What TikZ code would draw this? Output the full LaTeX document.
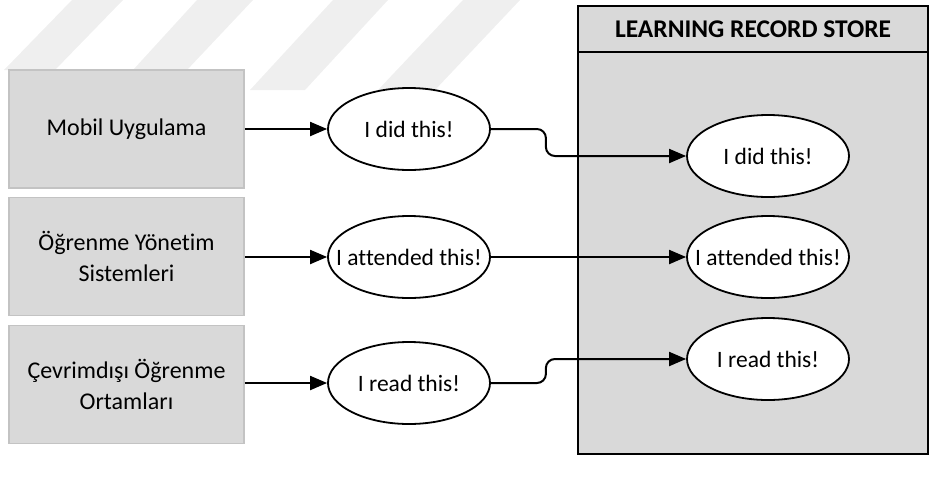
\documentclass[tikz,border=0pt]{standalone}
\usepackage{fontspec}
\setmainfont{Carlito}[Ligatures=NoCommon]
\usetikzlibrary{arrows.meta,shapes.geometric}
\definecolor{boxgray}{HTML}{D9D9D9}
\definecolor{boxedge}{HTML}{C3C3C3}
\definecolor{wmark}{HTML}{EFEFEF}
\newcommand{\fixw}[1]{\makebox[0pt][c]{#1}}
\tikzset{
  srcbox/.style={draw=boxedge, line width=1.5pt, fill=boxgray, minimum width=235pt, minimum height=118pt, inner sep=2pt, align=center, font=\fontsize{24}{31}\selectfont},
  stmt/.style={ellipse, draw=black, line width=1.8pt, fill=white, minimum width=162pt, minimum height=82pt, inner sep=0pt, font=\fontsize{23.5}{28}\selectfont},
  link/.style={line width=2pt, -{Triangle[length=17pt, width=14pt]}},
  lrsframe/.style={draw=black, line width=2.2pt, fill=boxgray, anchor=north west, inner sep=0pt},
  stripe/.style={fill=wmark, draw=none}
}
\begin{document}
\begin{tikzpicture}[x=1pt,y=-1pt]
\useasboundingbox (0,0) rectangle (937,480);
% watermark stripes
\fill[stripe] (72,0) -- (123,0) -- (55,70) -- (4,70) -- cycle;
\fill[stripe] (197,0) -- (253,0) -- (187,70) -- (133,70) -- cycle;
\fill[stripe] (333,0) -- (388,0) -- (305,90) -- (250,90) -- cycle;
\fill[stripe] (463,0) -- (520,0) -- (435,90) -- (378,90) -- cycle;
% learning record store
\node[lrsframe, minimum width=350pt, minimum height=448pt] (lrs) at (577,5) {};
\node[lrsframe, minimum width=350pt, minimum height=46pt, font=\fontsize{25.5}{30}\selectfont\bfseries] (lrshead) at (577,5) {LEARNING RECORD STORE};
% sources
\node[srcbox] (b1) at (126.5,129) {Mobil Uygulama};
\node[srcbox] (b2) at (126.5,256.5) {Öğrenme Yönetim\\Sistemleri};
\node[srcbox] (b3) at (126.5,384.5) {Çevrimdışı Öğrenme\\Ortamları};
% statements
\node[stmt] (l1) at (409,129) {\fixw{I did this!}};
\node[stmt] (l2) at (409,257) {\fixw{I attended this!}};
\node[stmt] (l3) at (409,383) {\fixw{I read this!}};
\node[stmt] (r1) at (768,156) {\fixw{I did this!}};
\node[stmt] (r2) at (768,257) {\fixw{I attended this!}};
\node[stmt] (r3) at (768,359) {\fixw{I read this!}};
% connectors
\draw[link] (b1.east) -- (l1.west);
\draw[link] (b2.east |- l2.west) -- (l2.west);
\draw[link] (b3.east |- l3.west) -- (l3.west);
\draw[link, rounded corners=9pt] (l1.east) -- ++(55,0) |- (r1.west);
\draw[link] (l2.east) -- (r2.west);
\draw[link, rounded corners=9pt] (l3.east) -- ++(55,0) |- (r3.west);
\end{tikzpicture}
\end{document}
